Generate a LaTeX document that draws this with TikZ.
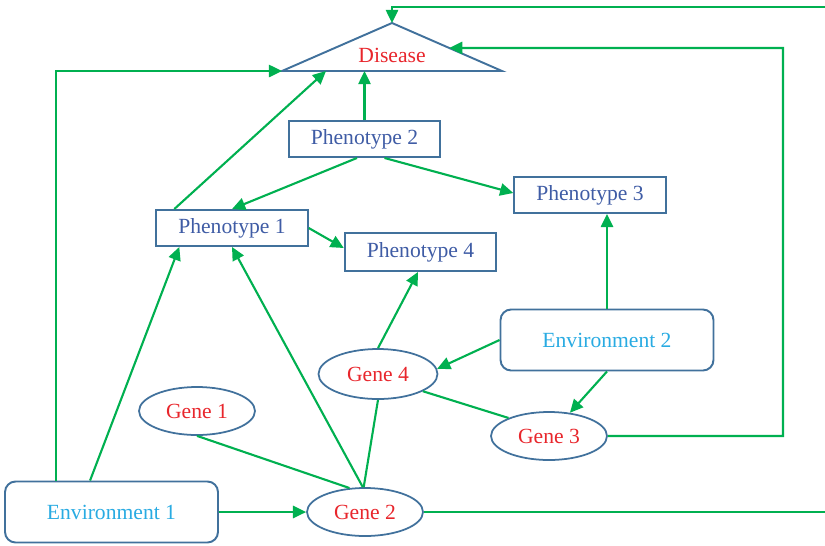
\documentclass[tikz,border=0pt]{standalone}
\usepackage{fontspec}
\setmainfont{Liberation Serif}
\usepackage{tikz}
\usetikzlibrary{shapes, arrows.meta, positioning, calc}

\definecolor{bordeazul}{RGB}{65,113,156}
\definecolor{textoazul}{RGB}{63,92,165}
\definecolor{genrojo}{RGB}{232,38,44}
\definecolor{ambcian}{RGB}{41,171,226}
\definecolor{flechaverde}{RGB}{0,176,80}

\tikzset{
    fenotipo/.style={draw=bordeazul, line width=1.1pt, text=textoazul,
        minimum width=3.03cm, minimum height=0.72cm, inner sep=0pt},
    gen/.style={draw=bordeazul, line width=1pt, ellipse, text=genrojo,
        minimum width=2.32cm, minimum height=0.96cm, inner sep=0pt},
    ambiente/.style={draw=bordeazul, line width=1.1pt, rounded corners=6pt,
        text=ambcian, minimum width=4.26cm, minimum height=1.22cm, inner sep=0pt},
    flecha/.style={draw=flechaverde, line width=1.2pt,
        -{Triangle[length=7.5pt,width=7pt]}},
    linea/.style={draw=flechaverde, line width=1.2pt}
}

\begin{document}
\begin{tikzpicture}[x=0.02cm, y=-0.02cm, font=\fontsize{12.3}{14}\selectfont]
    \useasboundingbox (0,0) rectangle (825,545);
    % Triángulo de la enfermedad
    \coordinate (apex) at (392,23);
    \coordinate (baseL) at (282,71);
    \coordinate (baseR) at (502,71);
    \draw[bordeazul, line width=1.1pt] (apex) -- (baseL) -- (baseR) -- cycle;
    \node[text=genrojo] (disease) at (392,55) {Disease};
    \coordinate (dright) at ($(apex)!0.52!(baseR)$);

    % Fenotipos
    \node[fenotipo] (pheno2) at (364.5,139) {Phenotype 2};
    \node[fenotipo] (pheno1) at (232,228) {Phenotype 1};
    \node[fenotipo] (pheno3) at (590,195) {Phenotype 3};
    \node[fenotipo, minimum height=0.76cm] (pheno4) at (420.5,252) {Phenotype 4};

    % Genes
    \node[gen, minimum width=2.38cm, minimum height=1cm] (gene4) at (378,374) {Gene 4};
    \node[gen] (gene1) at (197,411) {Gene 1};
    \node[gen] (gene3) at (549,436) {Gene 3};
    \node[gen] (gene2) at (365,512) {Gene 2};

    % Ambientes
    \node[ambiente] (env2) at (607,340) {Environment 2};
    \node[ambiente] (env1) at (111.5,512) {Environment 1};

    % Conexiones largas
    \coordinate (farright) at (828,7);
    \coordinate (g3turn) at (783,48);
    \draw[flecha] (gene2.east) -| (farright) -| (apex);
    \draw[flecha] (gene3.east) -| (g3turn) -- (dright);
    \draw[flecha] ([xshift=1.04cm]env1.north west) |- (baseL);

    % Hacia la enfermedad
    \draw[flecha] ([xshift=0.38cm]pheno1.north west) -- ($(baseL)!0.2!(baseR)$);
    \draw[flecha] (pheno2.north) -- (pheno2.north |- baseL);

    % Entre fenotipos
    \draw[flecha] ([xshift=-0.15cm]pheno2.south) -- (pheno1.north);
    \draw[flecha] ([xshift=0.4cm]pheno2.south) -- ([yshift=0.04cm]pheno3.west);
    \draw[flecha] (pheno1.east) -- ([yshift=0.08cm]pheno4.west);

    % Genes y ambientes
    \draw[flecha] ([xshift=1.72cm]env1.north west) -- ([xshift=0.48cm]pheno1.south west);
    \draw[flecha] (gene2.95) -- (pheno1.south);
    \draw[flecha] (gene4.north) -- ([xshift=-0.05cm]pheno4.south);
    \draw[flecha] (env2.north) -- (env2.north |- pheno3.south);
    \draw[flecha] (env2.west) -- (gene4.5);
    \draw[flecha] (env2.south) -- (gene3.48);
    \draw[flecha] (env1.east) -- (gene2.west);
    \draw[linea] (gene4.-21) -- (gene3.156);
    \draw[linea] (gene1.south) -- (gene2.123);
    \draw[linea] (gene4.south) -- (gene2.93);
\end{tikzpicture}
\end{document}
